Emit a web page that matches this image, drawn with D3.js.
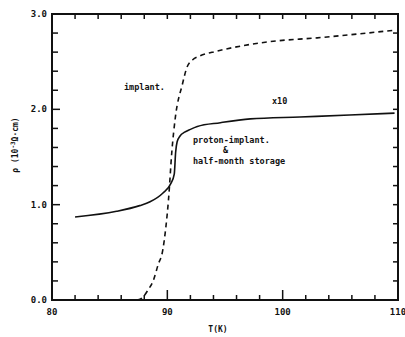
<!DOCTYPE html>
<html><head><meta charset="utf-8">
<script src="https://cdn.jsdelivr.net/npm/d3@7"></script>
<style>body{margin:0;background:#fff}svg{display:block}text{font-family:"DejaVu Sans Mono",monospace;font-weight:bold;fill:#111}</style>
</head><body><div id="c"></div>
<script>
const xTicks=[80,90,100,110];
const xTickLabels=["80","90","100","110"];
const yTicks=[0,1,2,3];
const yTickLabels=["0.0","1.0","2.0","3.0"];
const implantT=[87.4,87.8,88.3,88.8,89.2,89.6,89.85,90.1,90.4,90.7,91.3,91.7,92.2,92.8,94.3,98.9,103,106.5,109.7];
const implantRho=[0.00,0.02,0.10,0.21,0.37,0.52,0.74,1.05,1.57,1.92,2.26,2.44,2.52,2.56,2.61,2.71,2.75,2.79,2.83];
const storageT=[82.0,85.6,87.6,88.5,89.6,90.3,90.6,90.72,90.85,91.1,91.5,92.0,92.6,94.6,97.2,101.5,105.8,109.7];
const storageRho=[0.87,0.93,0.99,1.03,1.12,1.22,1.32,1.55,1.66,1.72,1.76,1.79,1.82,1.86,1.90,1.92,1.94,1.96];

const W=405,H=337;
const svg=d3.select("#c").append("svg").attr("width",W).attr("height",H);
const x=d3.scaleLinear().domain([80,110]).range([52,398]);
const y=d3.scaleLinear().domain([0,3]).range([300,14]);

svg.append("rect").attr("x",x(80)).attr("y",y(3)).attr("width",x(110)-x(80)).attr("height",y(0)-y(3))
  .attr("fill","none").attr("stroke","#111").attr("stroke-width",2);

const minorX=d3.range(82,110,2);
const minorY=d3.range(0.2,3,0.2);
const g=svg.append("g").attr("stroke","#111").attr("stroke-width",1.5);
minorX.forEach(t=>{
  const L=(t%10===0)?10:5;
  g.append("line").attr("x1",x(t)).attr("x2",x(t)).attr("y1",y(0)).attr("y2",y(0)-L);
  g.append("line").attr("x1",x(t)).attr("x2",x(t)).attr("y1",y(3)).attr("y2",y(3)+5);
});
minorY.forEach(v=>{
  const L=(Math.abs(v-Math.round(v))<1e-6)?8:6;
  g.append("line").attr("x1",x(80)).attr("x2",x(80)+L).attr("y1",y(v)).attr("y2",y(v));
  g.append("line").attr("x1",x(110)).attr("x2",x(110)-5).attr("y1",y(v)).attr("y2",y(v));
});

svg.selectAll(".xl").data(xTicks).enter().append("text")
  .attr("x",d=>x(d)).attr("y",315).attr("text-anchor","middle").attr("font-size",9)
  .text((d,i)=>xTickLabels[i]);
svg.selectAll(".yl").data(yTicks).enter().append("text")
  .attr("x",47).attr("y",d=>y(d)+3).attr("text-anchor","end").attr("font-size",9)
  .text((d,i)=>yTickLabels[i]);

svg.append("text").attr("x",218).attr("y",332).attr("text-anchor","middle").attr("font-size",8).attr("font-weight","normal").text("T(K)");
svg.append("text").attr("transform","translate(18,145) rotate(-90)").attr("text-anchor","middle").attr("font-size",8)
  .attr("font-weight","normal").html('ρ (10<tspan dy="-3" font-size="6">-3</tspan><tspan dy="3">Ω·cm)</tspan>');

const line=d3.line().x(d=>x(d[0])).y(d=>y(d[1])).curve(d3.curveMonotoneX);
svg.append("path").datum(implantT.map((t,i)=>[t,implantRho[i]])).attr("d",line)
  .attr("fill","none").attr("stroke","#111").attr("stroke-width",1.6).attr("stroke-dasharray","5,4");
svg.append("path").datum(storageT.map((t,i)=>[t,storageRho[i]])).attr("d",line)
  .attr("fill","none").attr("stroke","#111").attr("stroke-width",1.6);

const ann=[["implant.",124,90],["x10",272,104],["proton-implant.",193,143],["&",223,153],["half-month storage",193,164]];
ann.forEach(a=>svg.append("text").attr("x",a[1]).attr("y",a[2]).attr("font-size",8.5).text(a[0]));
</script></body></html>
